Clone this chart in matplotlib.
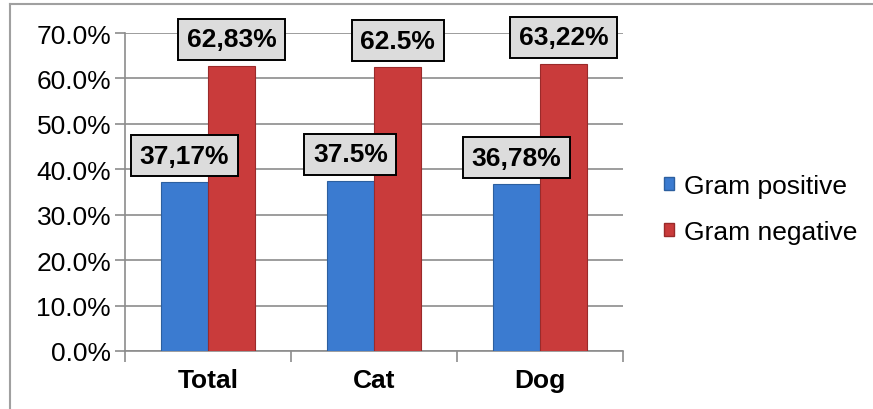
import matplotlib as mpl

mpl.use("Agg")

import matplotlib.pyplot as plt
import numpy as np
from matplotlib.lines import Line2D
from matplotlib.patches import Patch
from matplotlib.ticker import FuncFormatter, FixedLocator

# data
categories = ["Total", "Cat", "Dog"]
gram_positive = [37.17, 37.5, 36.78]
gram_negative = [62.83, 62.5, 63.22]
positive_labels = ["37,17%", "37.5%", "36,78%"]
negative_labels = ["62,83%", "62.5%", "63,22%"]
series_names = ["Gram positive", "Gram negative"]

FS = 19

mpl.rcParams.update(
    {
        "font.family": ["Liberation Sans", "DejaVu Sans"],
        "font.size": FS,
    }
)

BLUE = "#3b7bd0"
BLUE_EDGE = "#2c5f9f"
RED = "#c93b3b"
RED_EDGE = "#9a2a2a"
GRID = "#8c8c8c"

fig = plt.figure(figsize=(8.73, 4.10), dpi=100)
ax = fig.add_axes([125 / 873, 1 - 352 / 410, (623 - 125) / 873, (352 - 34) / 410])

x = np.arange(len(categories))
w = 0.285
pos = np.array(gram_positive) / 100
neg = np.array(gram_negative) / 100

bars_pos = ax.bar(x - w / 2, pos, w, color=BLUE, edgecolor=BLUE_EDGE, linewidth=0.8, zorder=3)
bars_neg = ax.bar(x + w / 2, neg, w, color=RED, edgecolor=RED_EDGE, linewidth=0.8, zorder=3)

box = dict(boxstyle="square,pad=0.32", facecolor="#dcdcdc", edgecolor="black", linewidth=1.4)
for bars, labels in ((bars_pos, positive_labels), (bars_neg, negative_labels)):
    for b, lab in zip(bars, labels):
        ax.annotate(
            lab,
            (b.get_x() + b.get_width() / 2, b.get_height()),
            xytext=(0, 19),
            textcoords="offset points",
            ha="center",
            va="center",
            fontsize=FS,
            fontweight="bold",
            bbox=box,
            zorder=5,
            annotation_clip=False,
        )

ax.set_xlim(-0.5, len(categories) - 0.5)
ax.set_ylim(0, 0.70)
ax.set_yticks(np.arange(0, 0.71, 0.10))
ax.yaxis.set_major_formatter(FuncFormatter(lambda v, _: f"{v * 100:.1f}%"))
ax.yaxis.grid(True, color=GRID, linewidth=1.2, zorder=0)
ax.tick_params(axis="y", length=7, width=1.2, color=GRID, pad=3, labelsize=FS)

ax.set_xticks(x)
ax.set_xticklabels(categories, fontweight="bold", fontsize=FS)
ax.xaxis.set_minor_locator(FixedLocator(np.arange(-0.5, len(categories), 1.0)))
ax.tick_params(axis="x", which="major", length=0, pad=12)
ax.tick_params(axis="x", which="minor", length=8, width=1.2, color=GRID)

for s in ("top", "right"):
    ax.spines[s].set_visible(False)
for s in ("left", "bottom"):
    ax.spines[s].set_color(GRID)
    ax.spines[s].set_linewidth(1.2)

handles = [Patch(facecolor=BLUE, edgecolor=BLUE_EDGE), Patch(facecolor=RED, edgecolor=RED_EDGE)]
fig.legend(
    handles,
    series_names,
    loc="center left",
    bbox_to_anchor=(640 / 873, 1 - 210 / 410),
    frameon=False,
    fontsize=FS,
    handlelength=0.4,
    handleheight=0.4,
    handletextpad=0.35,
    labelspacing=0.85,
)

# outer chart border (left and top only are visible)
fig.add_artist(Line2D([10 / 873, 10 / 873], [0, 1 - 5 / 410], color="#a0a0a0", linewidth=1.5))
fig.add_artist(Line2D([10 / 873, 1], [1 - 5 / 410, 1 - 5 / 410], color="#a0a0a0", linewidth=1.5))

fig.savefig("out.png", dpi=100)
